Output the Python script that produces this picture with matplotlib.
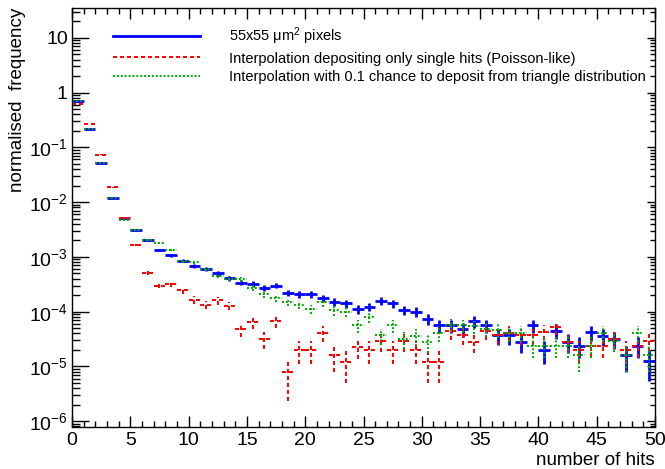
import numpy as np
import matplotlib
matplotlib.use("Agg")
import matplotlib.pyplot as plt
from matplotlib.ticker import FixedLocator, FixedFormatter, LogLocator, MultipleLocator, NullFormatter

plt.rcParams['font.family'] = ['Liberation Sans', 'DejaVu Sans']
plt.rcParams['mathtext.fontset'] = 'custom'
plt.rcParams['mathtext.rm'] = 'Liberation Sans'
plt.rcParams['mathtext.it'] = 'Liberation Sans:italic'

#bin edges 0..50, one bin per hit count
edges = np.arange(0, 51)
centres = edges[:-1] + 0.5

#normalised frequencies
pixels = [0.69, 0.215, 0.0516, 0.0119, 0.0052, 0.00305, 0.00207, 0.00133, 0.00108, 8.5e-4,
          6.8e-4, 6.0e-4, 5.0e-4, 4.1e-4, 3.4e-4, 3.2e-4, 2.75e-4, 3.0e-4, 2.2e-4, 2.1e-4,
          2.1e-4, 1.74e-4, 1.53e-4, 1.41e-4, 1.13e-4, 1.23e-4, 1.59e-4, 1.41e-4, 1.07e-4, 1.0e-4,
          7.3e-5, 5.6e-5, 5.6e-5, 4.8e-5, 6.7e-5, 5.6e-5, 3.7e-5, 3.7e-5, 2.8e-5, 5.6e-5,
          2.0e-5, 4.5e-5, 2.8e-5, 2.4e-5, 4.2e-5, 3.6e-5, 3.2e-5, 1.6e-5, 2.4e-5, 1.25e-5]
poisson = [0.61, 0.265, 0.074, 0.0186, 0.0051, 0.00167, 5.1e-4, 3.0e-4, 3.2e-4, 2.45e-4,
           1.65e-4, 1.33e-4, 1.6e-4, 1.29e-4, 4.9e-5, 6.4e-5, 3.2e-5, 6.7e-5, 8.0e-6, 2.0e-5,
           2.0e-5, 4.1e-5, 1.6e-5, 1.2e-5, 2.3e-5, 2.0e-5, 2.9e-5, 2.0e-5, 2.9e-5, 2.0e-5,
           1.2e-5, 1.2e-5, 4.4e-5, 3.7e-5, 2.8e-5, 4.4e-5, 3.7e-5, 4.1e-5, 3.7e-5, 3.7e-5,
           4.3e-5, 5.2e-5, 2.8e-5, 2.0e-5, 2.4e-5, 2.4e-5, 3.2e-5, 2.0e-5, 2.4e-5, 2.9e-5]
triangle = [0.69, 0.215, 0.0516, 0.0119, 0.0047, 0.00305, 0.00207, 0.00177, 0.00134, 8.4e-4,
            7.9e-4, 6.0e-4, 4.5e-4, 4.0e-4, 3.9e-4, 2.7e-4, 2.1e-4, 1.78e-4, 1.52e-4, 1.35e-4,
            1.1e-4, 1.48e-4, 1.05e-4, 1.0e-4, 5.6e-5, 8.0e-5, 3.7e-5, 5.6e-5, 3.2e-5, 3.6e-5,
            2.8e-5, 4.1e-5, 5.8e-5, 5.6e-5, 5.4e-5, 4.9e-5, 4.6e-5, 4.1e-5, 4.1e-5, 2.4e-5,
            2.4e-5, 2.4e-5, 2.4e-5, 1.6e-5, 2.4e-5, 4.1e-5, 2.9e-5, 1.6e-5, 4.1e-5, 1.6e-5]

#approx number of entries per histogram (from the size of the error bars)
n_entries = 2.5e5

labels = ["55x55 \u03bcm$^{2}$ pixels",
          "Interpolation depositing only single hits (Poisson-like)",
          "Interpolation with 0.1 chance to deposit from triangle distribution"]

fig = plt.figure(figsize=(6.65, 4.69), dpi=100)
ax = fig.add_axes([72/665, 1-426.5/469, 583/665, 418.5/469])

series = [(pixels, '#0000ff', '-', 2.0),
          (poisson, '#ff0000', (0, (2.1, 1.5)), 1.4),
          (triangle, '#00aa00', (0, (1, 1)), 1.4)]
handles = []
for (vals, col, ls, lw), lab in zip(series, labels):
    vals = np.array(vals)
    err = np.sqrt(vals/n_entries)
    eb = ax.errorbar(centres, vals, xerr=0.5, yerr=err, fmt='none', ecolor=col, elinewidth=lw, capsize=0)
    for bl in eb[2]:
        bl.set_linestyle(ls)
    h, = ax.plot([], [], color=col, ls=ls, lw=lw, label=lab)
    handles.append(h)

ax.set_yscale('log')
ax.set_xlim(0, 50)
ax.set_ylim(8e-7, 35)

ax.xaxis.set_major_locator(FixedLocator(np.arange(0, 51, 5)))
ax.xaxis.set_major_formatter(FixedFormatter([str(v) for v in range(0, 51, 5)]))
ax.xaxis.set_minor_locator(MultipleLocator(1))

yt = [1e-6, 1e-5, 1e-4, 1e-3, 1e-2, 1e-1, 1, 10]
ytl = [r"$10^{-6}$", r"$10^{-5}$", r"$10^{-4}$", r"$10^{-3}$", r"$10^{-2}$", r"$10^{-1}$", "1", "10"]
ax.yaxis.set_major_locator(FixedLocator(yt))
ax.yaxis.set_major_formatter(FixedFormatter(ytl))
ax.yaxis.set_minor_locator(LogLocator(base=10, subs=np.arange(2, 10), numticks=20))
ax.yaxis.set_minor_formatter(NullFormatter())

ax.tick_params(which='both', direction='in', top=True, right=True, width=1.0, labelsize=14)
ax.tick_params(axis='x', which='major', length=8, pad=4)
ax.tick_params(axis='x', which='minor', length=4)
ax.tick_params(axis='y', which='major', length=12, pad=3)
ax.tick_params(axis='y', which='minor', length=6)
for t in ax.yaxis.get_major_ticks():
    t.tick2line.set_markersize(6)
for t in ax.yaxis.get_minor_ticks():
    t.tick2line.set_markersize(3.5)
for s in ax.spines.values():
    s.set_linewidth(1.0)

ax.set_xlabel("number of hits", fontsize=13.5, loc='right', labelpad=2)
ax.set_ylabel("normalised  frequency", fontsize=13.5, loc='top', labelpad=2)

ax.legend(handles=handles, loc='upper left', bbox_to_anchor=(0.070, 0.958), frameon=False,
          fontsize=10.5, handlelength=6.0, handletextpad=2.0, labelspacing=0.3,
          borderpad=0, borderaxespad=0)

fig.savefig("out.png", dpi=100)
